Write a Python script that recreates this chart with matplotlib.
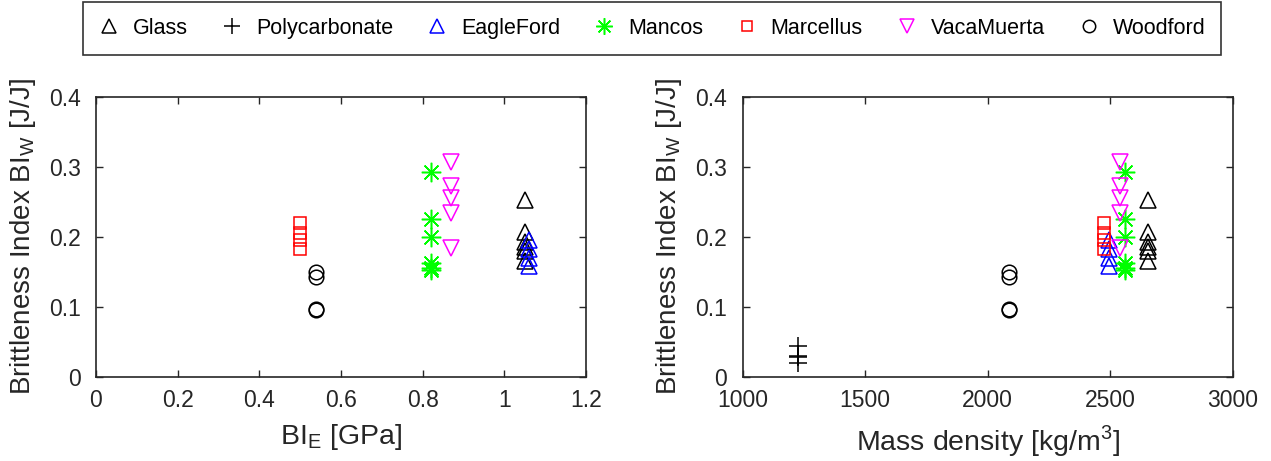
# -*- coding: utf-8 -*-
"""
Brittleness index BI_W vs BI_E and vs mass density
"""

import numpy as np
import matplotlib.pyplot as plt

#### data ####
names = ['Glass', 'Polycarbonate', 'EagleFord', 'Mancos', 'Marcellus', 'VacaMuerta', 'Woodford']

glass_BIW = [0.252, 0.207, 0.192, 0.186, 0.180, 0.165]
poly_BIW = [0.044, 0.030, 0.028, 0.020]
eagle_BIW = [0.195, 0.183, 0.170, 0.158]
mancos_BIW = [0.293, 0.225, 0.200, 0.162, 0.155, 0.152]
marcellus_BIW = [0.219, 0.206, 0.195, 0.182]
vaca_BIW = [0.307, 0.272, 0.255, 0.234, 0.184]
woodford_BIW = [0.150, 0.142, 0.096, 0.095]

# BI_E [GPa] per material (no value shown for polycarbonate)
BIE = {'Glass': 1.05, 'Polycarbonate': None, 'EagleFord': 1.06, 'Mancos': 0.82,
       'Marcellus': 0.50, 'VacaMuerta': 0.87, 'Woodford': 0.54}
# mass density [kg/m3] per material
rho = {'Glass': 2656, 'Polycarbonate': 1226, 'EagleFord': 2494, 'Mancos': 2560,
       'Marcellus': 2476, 'VacaMuerta': 2539, 'Woodford': 2087}

BIW = {'Glass': glass_BIW, 'Polycarbonate': poly_BIW, 'EagleFord': eagle_BIW,
       'Mancos': mancos_BIW, 'Marcellus': marcellus_BIW, 'VacaMuerta': vaca_BIW,
       'Woodford': woodford_BIW}
########################################

#### styles ####
style = {'Glass': dict(marker='^', color='k', ms=12),
         'Polycarbonate': dict(marker='+', color='k', ms=13),
         'EagleFord': dict(marker='^', color='#0000ff', ms=12),
         'Mancos': dict(marker=(8, 2, 0), color='#00ff00', ms=14),
         'Marcellus': dict(marker='s', color='#ff0000', ms=8),
         'VacaMuerta': dict(marker='v', color='#ff00ff', ms=12),
         'Woodford': dict(marker='o', color='k', ms=10.5)}

plt.rcParams['font.family'] = ['Liberation Sans', 'DejaVu Sans']
plt.rcParams['mathtext.fontset'] = 'custom'
plt.rcParams['mathtext.rm'] = 'Liberation Sans'
axcol = (0.15, 0.15, 0.15)

fig = plt.figure(figsize=(12.71, 4.61), dpi=100)
ax1 = fig.add_axes([0.0755, 0.183, 0.3855, 0.607])
ax2 = fig.add_axes([0.5843, 0.183, 0.3855, 0.607])

handles = []
for n in names:
    st = style[n]
    y = np.array(BIW[n])
    if BIE[n] is not None:
        ax1.plot(np.full(len(y), BIE[n]), y, linestyle='none', marker=st['marker'],
                 ms=st['ms'], mfc='none', mec=st['color'], mew=1.1)
    h, = ax2.plot(np.full(len(y), rho[n]), y, linestyle='none', marker=st['marker'],
                  ms=st['ms'], mfc='none', mec=st['color'], mew=1.1, label=n)
    handles.append(h)

ax1.set_xlim(0, 1.2)
ax1.set_xticks(np.arange(0, 1.21, 0.2))
ax1.set_xticklabels(['0', '0.2', '0.4', '0.6', '0.8', '1', '1.2'])
ax2.set_xlim(1000, 3000)
ax2.set_xticks([1000, 1500, 2000, 2500, 3000])

for ax in [ax1, ax2]:
    ax.set_ylim(0, 0.4)
    ax.set_yticks([0, 0.1, 0.2, 0.3, 0.4])
    ax.set_yticklabels(['0', '0.1', '0.2', '0.3', '0.4'])
    ax.tick_params(direction='in', top=True, right=True, length=5, width=1,
                   color=axcol, labelcolor=axcol, labelsize=16.5)
    ax.tick_params(axis='x', pad=9)
    ax.tick_params(axis='y', pad=11)
    for sp in ax.spines.values():
        sp.set_color(axcol)
        sp.set_linewidth(1.2)
    ax.set_ylabel('Brittleness Index BI$_\\mathregular{W}$ [J/J]', fontsize=20,
                  color=axcol, labelpad=8)

ax1.set_xlabel('BI$_\\mathregular{E}$ [GPa]', fontsize=20.5, color=axcol, labelpad=7)
ax2.set_xlabel('Mass density [kg/m$^\\mathregular{3}$]', fontsize=20.5, color=axcol, labelpad=8)

leg = fig.legend(handles=handles, loc='center', bbox_to_anchor=(652 / 1271, 1 - 28.5 / 461),
                 ncol=7, fontsize=15.5, frameon=True, fancybox=False, handlelength=1.0,
                 handletextpad=0.6, columnspacing=1.55, markerscale=0.85, borderpad=0.75)
leg.get_frame().set_edgecolor('k')
leg.get_frame().set_linewidth(1.2)

plt.savefig('out.png', dpi=100)
